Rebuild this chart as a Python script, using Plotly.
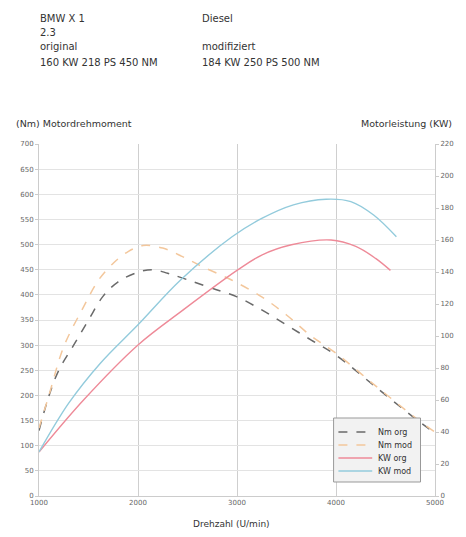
import plotly.graph_objects as go

# ---- data ----
rpm_nm_org = [1000, 1100, 1200, 1350, 1500, 1650, 1800, 2000, 2150, 2300, 2500, 2750, 3000, 3250, 3500, 3750, 4000, 4400, 4800, 5000]
nm_org = [130, 199, 250, 300, 350, 398, 426, 445, 450, 443, 430, 413, 396, 370, 340, 310, 280, 217, 154, 125]

rpm_nm_mod = [1000, 1100, 1250, 1450, 1600, 1750, 1900, 2050, 2250, 2450, 2650, 2950, 3250, 3500, 3750, 4000, 4400, 4800, 5000]
nm_mod = [135, 200, 297, 376, 429, 463, 486, 498, 493, 476, 456, 429, 396, 360, 318, 284, 219, 156, 127]

rpm_kw_org = [1000, 1450, 2000, 2450, 3000, 3250, 3550, 3950, 4200, 4400, 4550]
kw_org = [27.5, 60, 94.4, 116, 141, 150.6, 157, 160, 156, 148.5, 141]

rpm_kw_mod = [1000, 1300, 1620, 2000, 2430, 2950, 3250, 3570, 3900, 4150, 4380, 4610]
kw_mod = [27.5, 58, 83, 107, 135, 162, 173.5, 182, 185.5, 184, 175.6, 162]

nm_ticks = list(range(0, 701, 50))
kw_ticks = list(range(0, 221, 20))
rpm_ticks = [1000, 2000, 3000, 4000, 5000]

series_names = ["Nm org", "Nm mod", "KW org", "KW mod"]
series_colors = ["#6a6a6a", "#f3c79c", "#ee8a98", "#93cbdc"]
series_dash = ["dash", "dash", "solid", "solid"]

# page has an 8px body margin; work in reference pixel coords, shifted
OFF = 8
W, H = 466 - OFF, 537 - OFF
L, R, T, B = 33 - OFF, 443 - OFF, 144 - OFF, 496 - OFF


def px(x):
    return (x - OFF - L) / (R - L)


def py(y):
    return (B - (y - OFF)) / (B - T)


fig = go.Figure()
data = [(rpm_nm_org, nm_org, "y"), (rpm_nm_mod, nm_mod, "y"),
        (rpm_kw_org, kw_org, "y2"), (rpm_kw_mod, kw_mod, "y2")]
for (xs, ys, ax), name, col, dash in zip(data, series_names, series_colors, series_dash):
    fig.add_trace(go.Scatter(x=xs, y=ys, name=name, mode="lines", yaxis=ax, showlegend=False,
                             line=dict(color=col, width=1.5 if ax == "y" else 1.4,
                                       dash=dash, shape="spline")))

tickfont = dict(family="DejaVu Sans", size=7, color="#666666")

fig.update_layout(
    width=W, height=H,
    margin=dict(l=L, r=W - R, t=T, b=H - B, pad=0),
    paper_bgcolor="white", plot_bgcolor="white",
    showlegend=False,
    xaxis=dict(range=[1000, 5000], tickvals=rpm_ticks, showgrid=True,
               gridcolor="#cfcfcf", gridwidth=1, zeroline=False,
               showline=True, linecolor="#cccccc", ticks="", tickfont=tickfont),
    yaxis=dict(range=[0, 700], tickvals=nm_ticks, showgrid=True,
               gridcolor="#e3e3e3", gridwidth=1, zeroline=False,
               showline=True, linecolor="#cccccc", ticks="outside", ticklen=3,
               tickcolor="#cccccc", tickfont=tickfont),
    yaxis2=dict(range=[0, 220], tickvals=kw_ticks, overlaying="y", side="right",
                showgrid=False, zeroline=False, showline=True, linecolor="#cccccc",
                ticks="outside", ticklen=3, tickcolor="#cccccc", tickfont=tickfont),
)

hdr = dict(family="DejaVu Sans", size=10, color="#333333")
header = [
    ("BMW X 1", 32, 19), ("Diesel", 200, 19),
    ("2.3", 32, 33),
    ("original", 32, 47), ("modifiziert", 200, 47),
    ("160 KW 218 PS 450 NM", 32, 62), ("184 KW 250 PS 500 NM", 200, 62),
]
for text, x, y in header:
    fig.add_annotation(text=text, x=px(x), y=py(y), xref="paper", yref="paper",
                       xanchor="left", yanchor="middle", showarrow=False, font=hdr)

tfont = dict(family="DejaVu Sans", size=9.5, color="#333333")
fig.add_annotation(text="(Nm) Motordrehmoment", x=px(7), y=py(124), xref="paper", yref="paper",
                   xanchor="left", yanchor="middle", showarrow=False, font=tfont)
fig.add_annotation(text="Motorleistung (KW)", x=px(463), y=py(124), xref="paper", yref="paper",
                   xanchor="right", yanchor="middle", showarrow=False, font=tfont)
fig.add_annotation(text="Drehzahl (U/min)", x=px(232), y=py(524), xref="paper", yref="paper",
                   xanchor="center", yanchor="middle", showarrow=False,
                   font=dict(family="DejaVu Sans", size=9, color="#333333"))

# legend box
fig.add_shape(type="rect", xref="paper", yref="paper",
              x0=px(338), x1=px(428), y0=py(482), y1=py(418),
              line=dict(color="#999999", width=1), fillcolor="#f2f2f2")
rows = [432, 445, 458, 471]
for name, col, dash, ry in zip(series_names, series_colors, series_dash, rows):
    fig.add_shape(type="line", xref="paper", yref="paper",
                  x0=px(343), x1=px(378), y0=py(ry), y1=py(ry),
                  line=dict(color=col, width=1.4, dash=dash))
    fig.add_annotation(text=name, x=px(382), y=py(ry), xref="paper", yref="paper",
                       xanchor="left", yanchor="middle", showarrow=False,
                       font=dict(family="DejaVu Sans", size=8, color="#333333"))

fig.write_html("out.html")
